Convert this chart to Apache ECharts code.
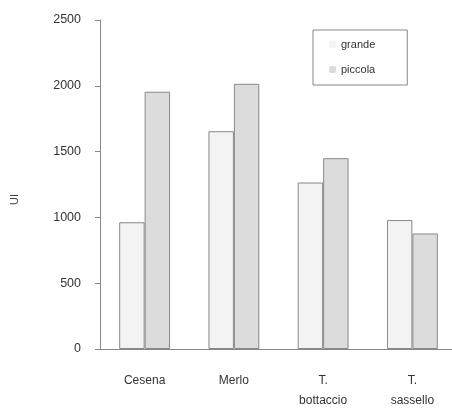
<!DOCTYPE html>
<html><head><meta charset="utf-8">
<script src="https://cdn.jsdelivr.net/npm/echarts@6/dist/echarts.min.js"></script>
<style>html,body{margin:0;padding:0;background:#fff}#c{width:452px;height:408px}</style>
</head><body><div id="c"></div>
<script>
var categories = ['Cesena', 'Merlo', 'T.\nbottaccio', 'T.\nsassello'];
var grande = [963, 1655, 1265, 980];
var piccola = [1955, 2015, 1450, 878];
var yTicks = [0, 500, 1000, 1500, 2000, 2500];

var chart = echarts.init(document.getElementById('c'));
var fontFam = '"Liberation Sans", Arial, sans-serif';
chart.setOption({
  animation: false,
  backgroundColor: '#fff',
  textStyle: {fontFamily: fontFam},
  grid: {left: 100, right: -5, top: 20, bottom: 59, containLabel: false, outerBoundsMode: 'none'},
  legend: {
    data: ['grande', 'piccola'],
    orient: 'vertical',
    left: 313, top: 30,
    padding: [9, 32, 10, 16],
    itemGap: 14,
    itemWidth: 7, itemHeight: 7,
    itemStyle: {borderWidth: 0},
    borderColor: '#888', borderWidth: 1,
    textStyle: {fontSize: 11, color: '#333', fontFamily: fontFam}
  },
  xAxis: {
    type: 'category',
    data: categories,
    axisLine: {lineStyle: {color: '#888'}},
    axisTick: {length: 4, lineStyle: {color: '#888'}},
    axisLabel: {fontSize: 12, color: '#333', margin: 22, lineHeight: 20, fontFamily: fontFam}
  },
  yAxis: {
    type: 'value',
    min: yTicks[0], max: yTicks[yTicks.length - 1], interval: 500,
    name: 'UI',
    nameLocation: 'middle',
    nameGap: 80,
    nameTextStyle: {fontSize: 11, color: '#444', fontFamily: fontFam, padding: [0, 30, 0, 0]},
    splitLine: {show: false},
    axisLine: {show: true, lineStyle: {color: '#888'}},
    axisTick: {show: true, length: 5, lineStyle: {color: '#888'}},
    axisLabel: {fontSize: 12.5, color: '#333', margin: 19, fontFamily: fontFam,
      formatter: function (v) { return String(v); }}
  },
  series: [
    {name: 'grande', type: 'bar', data: grande, barGap: '0%', barCategoryGap: '43%',
     itemStyle: {color: '#f3f3f3', borderColor: '#888', borderWidth: 1}},
    {name: 'piccola', type: 'bar', data: piccola,
     itemStyle: {color: '#dcdcdc', borderColor: '#888', borderWidth: 1}}
  ]
});
</script></body></html>
